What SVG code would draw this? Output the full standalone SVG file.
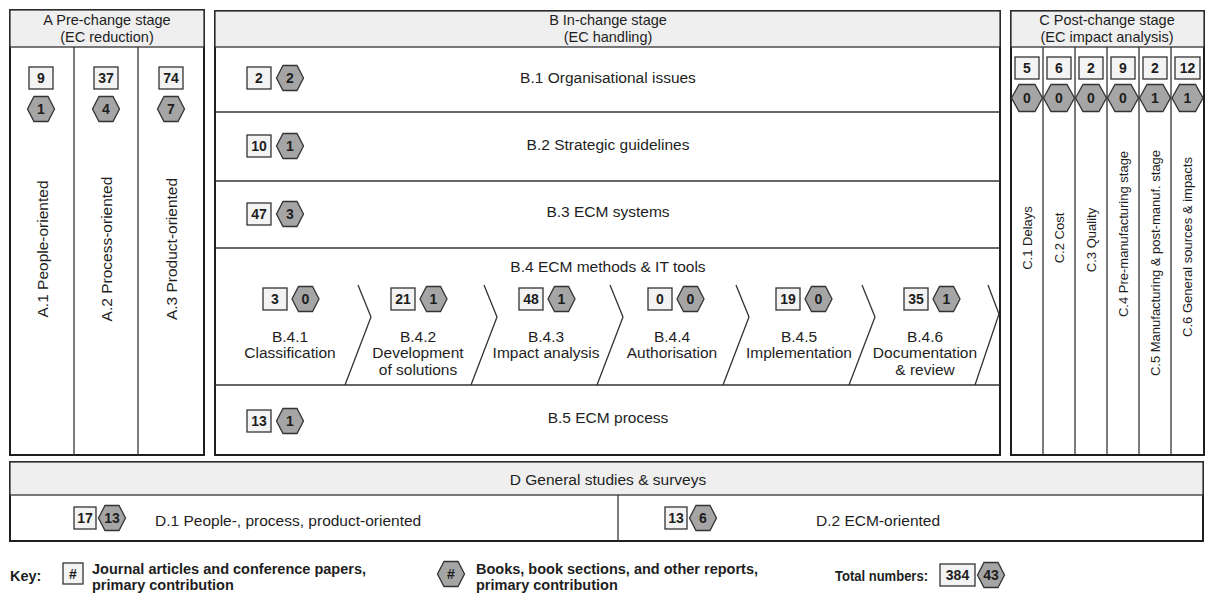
<svg xmlns="http://www.w3.org/2000/svg" width="1206" height="593" viewBox="0 0 1206 593">
<style>
text{font-family:"Liberation Sans",Arial,sans-serif;fill:#1e1e1e}
.t{font-size:15.5px;text-anchor:middle;dominant-baseline:central}
.h{font-size:14.5px;text-anchor:middle;dominant-baseline:central}
.ts{font-size:13px;text-anchor:middle;dominant-baseline:central}
.tl{font-size:15.5px;text-anchor:start;dominant-baseline:central}
.n{font-size:14px;font-weight:bold;text-anchor:middle;dominant-baseline:central}
.k{font-size:14.5px;font-weight:bold;text-anchor:start;dominant-baseline:central}
.frame{fill:#fff;stroke:#1e1e1e;stroke-width:2}
.hdr{fill:#efefef;stroke:#333;stroke-width:1.3}
.ln{fill:none;stroke:#333;stroke-width:1.3}
.box{fill:#f3f3f3;stroke:#333;stroke-width:1.3}
.hex{fill:#a5a5a5;stroke:#333;stroke-width:1.3}
</style>
<defs>
<path id="hx" class="hex" d="M-13.5,0 L-7,-12.5 L7,-12.5 L13.5,0 L7,12.5 L-7,12.5 Z"/>
<path id="hxc" class="hex" d="M-15.5,0 L-8,-13.5 L8,-13.5 L15.5,0 L8,13.5 L-8,13.5 Z"/>
</defs>

<g id="stageA">
<rect class="frame" x="10" y="10" width="194" height="445"/>
<rect class="hdr" x="10" y="10" width="194" height="37"/>
<text class="h" x="107" y="19.5">A Pre-change stage</text>
<text class="h" x="107" y="36.5">(EC reduction)</text>
<line class="ln" x1="74" y1="47" x2="74" y2="455"/>
<line class="ln" x1="138" y1="47" x2="138" y2="455"/>
</g>
<g id="A1">
<rect class="box" x="29" y="67" width="24" height="22"/><text class="n" x="41" y="78">9</text>
<use href="#hx" x="41" y="109"/><text class="n" x="41" y="109">1</text>
<text class="t" transform="translate(42,249) rotate(-90)">A.1 People-oriented</text>
</g>
<g id="A2">
<rect class="box" x="94" y="67" width="24" height="22"/><text class="n" x="106" y="78">37</text>
<use href="#hx" x="106" y="109"/><text class="n" x="106" y="109">4</text>
<text class="t" transform="translate(106,249) rotate(-90)">A.2 Process-oriented</text>
</g>
<g id="A3">
<rect class="box" x="159" y="67" width="24" height="22"/><text class="n" x="171" y="78">74</text>
<use href="#hx" x="171" y="109"/><text class="n" x="171" y="109">7</text>
<text class="t" transform="translate(171,249) rotate(-90)">A.3 Product-oriented</text>
</g>

<g id="stageB">
<rect class="frame" x="215" y="11" width="785" height="444"/>
<rect class="hdr" x="215" y="11" width="785" height="36"/>
<text class="h" x="608" y="19.5">B In-change stage</text>
<text class="h" x="608" y="36.5">(EC handling)</text>
<line class="ln" x1="215" y1="112" x2="1000" y2="112"/>
<line class="ln" x1="215" y1="181" x2="1000" y2="181"/>
<line class="ln" x1="215" y1="248" x2="1000" y2="248"/>
<line class="ln" x1="215" y1="385" x2="1000" y2="385"/>
</g>
<g id="B1">
<rect class="box" x="247" y="67" width="24" height="22"/><text class="n" x="259" y="78">2</text>
<use href="#hx" x="290" y="78"/><text class="n" x="290" y="78">2</text>
<text class="t" x="608" y="77">B.1 Organisational issues</text>
</g>
<g id="B2">
<rect class="box" x="247" y="135" width="24" height="22"/><text class="n" x="259" y="146">10</text>
<use href="#hx" x="290" y="146"/><text class="n" x="290" y="146">1</text>
<text class="t" x="608" y="144">B.2 Strategic guidelines</text>
</g>
<g id="B3">
<rect class="box" x="247" y="203" width="24" height="22"/><text class="n" x="259" y="214">47</text>
<use href="#hx" x="290" y="214"/><text class="n" x="290" y="214">3</text>
<text class="t" x="608" y="211">B.3 ECM systems</text>
</g>
<g id="B4">
<text class="t" x="608" y="266">B.4 ECM methods &amp; IT tools</text>
</g>
<g id="B41">
<rect class="box" x="263" y="288" width="24" height="22"/><text class="n" x="275" y="299">3</text>
<use href="#hx" x="305.5" y="299"/><text class="n" x="305.5" y="299">0</text>
<text class="t" x="290" y="336">B.4.1</text><text class="t" x="290" y="352">Classification</text>
</g>
<g id="B42">
<rect class="box" x="391" y="288" width="24" height="22"/><text class="n" x="403" y="299">21</text>
<use href="#hx" x="433.5" y="299"/><text class="n" x="433.5" y="299">1</text>
<text class="t" x="418" y="336">B.4.2</text><text class="t" x="418" y="352">Development</text><text class="t" x="418" y="369">of solutions</text>
</g>
<g id="B43">
<rect class="box" x="519" y="288" width="24" height="22"/><text class="n" x="531" y="299">48</text>
<use href="#hx" x="561.5" y="299"/><text class="n" x="561.5" y="299">1</text>
<text class="t" x="546" y="336">B.4.3</text><text class="t" x="546" y="352">Impact analysis</text>
</g>
<g id="B44">
<rect class="box" x="648" y="288" width="24" height="22"/><text class="n" x="660" y="299">0</text>
<use href="#hx" x="690.5" y="299"/><text class="n" x="690.5" y="299">0</text>
<text class="t" x="672" y="336">B.4.4</text><text class="t" x="672" y="352">Authorisation</text>
</g>
<g id="B45">
<rect class="box" x="776" y="288" width="24" height="22"/><text class="n" x="788" y="299">19</text>
<use href="#hx" x="818.5" y="299"/><text class="n" x="818.5" y="299">0</text>
<text class="t" x="799" y="336">B.4.5</text><text class="t" x="799" y="352">Implementation</text>
</g>
<g id="B46">
<rect class="box" x="904" y="288" width="24" height="22"/><text class="n" x="916" y="299">35</text>
<use href="#hx" x="946.5" y="299"/><text class="n" x="946.5" y="299">1</text>
<text class="t" x="925" y="336">B.4.6</text><text class="t" x="925" y="352">Documentation</text><text class="t" x="925" y="369">&amp; review</text>
</g>
<g id="B5">
<rect class="box" x="247" y="410" width="24" height="22"/><text class="n" x="259" y="421">13</text>
<use href="#hx" x="290" y="421"/><text class="n" x="290" y="421">1</text>
<text class="t" x="608" y="417">B.5 ECM process</text>
</g>

<g id="connectors">
<polyline class="ln" points="358,285 371,317 345,385"/>
<polyline class="ln" points="484,285 497,317 471,385"/>
<polyline class="ln" points="610,285 623,317 597,385"/>
<polyline class="ln" points="736,285 749,317 723,385"/>
<polyline class="ln" points="862,285 875,317 849,385"/>
<polyline class="ln" points="988,285 999,314 975,385"/>
</g>

<g id="stageC">
<rect class="frame" x="1011" y="11" width="193" height="444"/>
<rect class="hdr" x="1011" y="11" width="193" height="36"/>
<text class="h" x="1107" y="19.5">C Post-change stage</text>
<text class="h" x="1107" y="36.5">(EC impact analysis)</text>
<line class="ln" x1="1043" y1="47" x2="1043" y2="455"/>
<line class="ln" x1="1075" y1="47" x2="1075" y2="455"/>
<line class="ln" x1="1107" y1="47" x2="1107" y2="455"/>
<line class="ln" x1="1139" y1="47" x2="1139" y2="455"/>
<line class="ln" x1="1171" y1="47" x2="1171" y2="455"/>
</g>
<g id="C1">
<rect class="box" x="1015" y="57" width="24" height="22"/><text class="n" x="1027" y="68">5</text>
<use href="#hxc" x="1027" y="98"/><text class="n" x="1027" y="98">0</text>
<text class="ts" transform="translate(1027,238) rotate(-90)">C.1 Delays</text>
</g>
<g id="C2">
<rect class="box" x="1047" y="57" width="24" height="22"/><text class="n" x="1059" y="68">6</text>
<use href="#hxc" x="1059" y="98"/><text class="n" x="1059" y="98">0</text>
<text class="ts" transform="translate(1059,238) rotate(-90)">C.2 Cost</text>
</g>
<g id="C3">
<rect class="box" x="1079" y="57" width="24" height="22"/><text class="n" x="1091" y="68">2</text>
<use href="#hxc" x="1091" y="98"/><text class="n" x="1091" y="98">0</text>
<text class="ts" transform="translate(1091,240) rotate(-90)">C.3 Quality</text>
</g>
<g id="C4">
<rect class="box" x="1111" y="57" width="24" height="22"/><text class="n" x="1123" y="68">9</text>
<use href="#hxc" x="1123" y="98"/><text class="n" x="1123" y="98">0</text>
<text class="ts" transform="translate(1123,234) rotate(-90)">C.4 Pre-manufacturing stage</text>
</g>
<g id="C5">
<rect class="box" x="1143" y="57" width="24" height="22"/><text class="n" x="1155" y="68">2</text>
<use href="#hxc" x="1155" y="98"/><text class="n" x="1155" y="98">1</text>
<text class="ts" transform="translate(1155,263) rotate(-90)">C.5 Manufacturing &amp; post-manuf. stage</text>
</g>
<g id="C6">
<rect class="box" x="1175" y="57" width="25" height="22"/><text class="n" x="1187.5" y="68">12</text>
<use href="#hxc" x="1187.5" y="98"/><text class="n" x="1187.5" y="98">1</text>
<text class="ts" transform="translate(1187,247) rotate(-90)">C.6 General sources &amp; impacts</text>
</g>

<g id="stageD">
<rect class="frame" x="10" y="462" width="1193" height="79"/>
<rect class="hdr" x="10" y="462" width="1193" height="33"/>
<text class="t" x="608" y="479">D General studies &amp; surveys</text>
<line class="ln" x1="618" y1="495" x2="618" y2="541"/>
</g>
<g id="D1">
<rect class="box" x="74" y="507" width="22" height="22"/><text class="n" x="85" y="518">17</text>
<use href="#hx" x="112" y="518"/><text class="n" x="112" y="518">13</text>
<text class="tl" x="155" y="520">D.1 People-, process, product-oriented</text>
</g>
<g id="D2">
<rect class="box" x="665" y="507" width="22" height="22"/><text class="n" x="676" y="518">13</text>
<use href="#hx" x="703" y="518"/><text class="n" x="703" y="518">6</text>
<text class="tl" x="816" y="520">D.2 ECM-oriented</text>
</g>

<g id="key">
<text class="k" x="10" y="576">Key:</text>
<rect class="box" x="63" y="563" width="20" height="21"/><text class="n" x="73" y="573.5">#</text>
<text class="k" x="92" y="569">Journal articles and conference papers,</text>
<text class="k" x="92" y="585">primary contribution</text>
<use href="#hx" x="451" y="574"/><text class="n" x="451" y="574">#</text>
<text class="k" x="476" y="569">Books, book sections, and other reports,</text>
<text class="k" x="476" y="585">primary contribution</text>
<text class="k" x="835" y="576" textLength="93" lengthAdjust="spacingAndGlyphs">Total numbers:</text>
<rect class="box" x="940" y="564" width="35" height="22"/><text class="n" x="957.5" y="575">384</text>
<use href="#hx" x="991" y="575"/><text class="n" x="991" y="575">43</text>
</g>
</svg>
